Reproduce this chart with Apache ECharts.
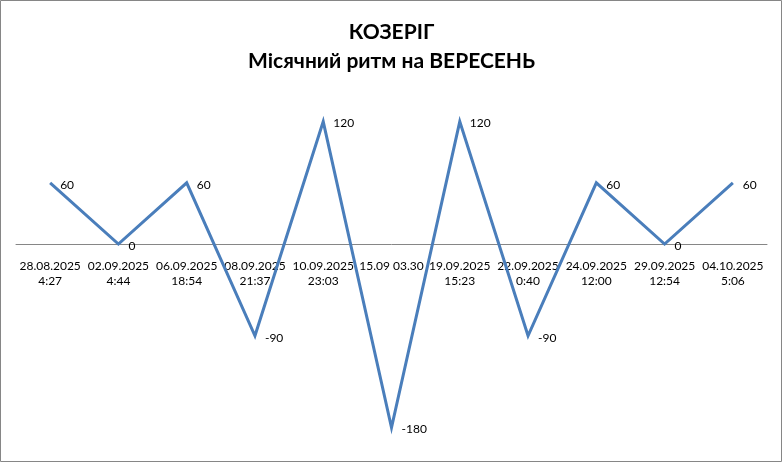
<!DOCTYPE html>
<html>
<head>
<meta charset="UTF-8">
<title>КОЗЕРІГ - Місячний ритм</title>
<script src="https://cdn.jsdelivr.net/npm/echarts@6/dist/echarts.min.js"></script>
<style>
  html, body { margin: 0; padding: 0; background: #fff; }
  #chart { width: 783px; height: 463px; }
</style>
</head>
<body>
<div id="chart"></div>
<script type="text/javascript">
  // дати фаз місяця
  var categories = [
    '28.08.2025\n4:27', '02.09.2025\n4:44', '06.09.2025\n18:54', '08.09.2025\n21:37',
    '10.09.2025\n23:03', '15.09 03.30', '19.09.2025\n15:23', '22.09.2025\n0:40',
    '24.09.2025\n12:00', '29.09.2025\n12:54', '04.10.2025\n5:06'
  ];
  var values = [60, 0, 60, -90, 120, -180, 120, -90, 60, 0, 60];

  var myChart = echarts.init(document.getElementById('chart'));
  var font = 'Lato, "Open Sans", sans-serif';

  var yMin = -200, yMax = 150;
  var gridTop = 91, gridHeight = 357;
  // вісь X проходить через нуль
  var zeroOffset = -Math.round(gridHeight * (0 - yMin) / (yMax - yMin));

  var option = {
    backgroundColor: '#fff',
    animation: false,
    title: {
      text: 'КОЗЕРІГ\nМісячний ритм на ВЕРЕСЕНЬ',
      left: 'center',
      top: 13,
      textStyle: {
        fontFamily: font,
        fontSize: 21,
        fontWeight: 'bold',
        color: '#000',
        lineHeight: 29
      }
    },
    graphic: [{
      type: 'rect',
      shape: { x: 0.5, y: 0.5, width: 781, height: 461 },
      style: { fill: 'none', stroke: '#868686', lineWidth: 1 },
      silent: true
    }],
    grid: { left: 16, right: 16, top: gridTop, height: gridHeight, outerBoundsMode: 'none' },
    xAxis: {
      type: 'category',
      data: categories,
      boundaryGap: true,
      offset: zeroOffset,
      axisLine: { onZero: false, lineStyle: { color: '#868686', width: 1 } },
      axisTick: { show: false },
      axisLabel: {
        interval: 0,
        margin: 15,
        fontFamily: font,
        fontSize: 12,
        color: '#000',
        lineHeight: 15
      }
    },
    yAxis: {
      type: 'value',
      min: yMin,
      max: yMax,
      show: false,
      splitLine: { show: false }
    },
    series: [{
      type: 'line',
      data: values,
      symbol: 'circle',
      symbolSize: 0,
      showSymbol: true,
      lineStyle: { color: '#4a7ebb', width: 3, join: 'miter', miterLimit: 20 },
      itemStyle: { color: '#4a7ebb' },
      label: {
        show: true,
        position: 'right',
        distance: 10,
        offset: [0, 2],
        fontFamily: font,
        fontSize: 12,
        color: '#000'
      }
    }]
  };

  myChart.setOption(option);
</script>
</body>
</html>
